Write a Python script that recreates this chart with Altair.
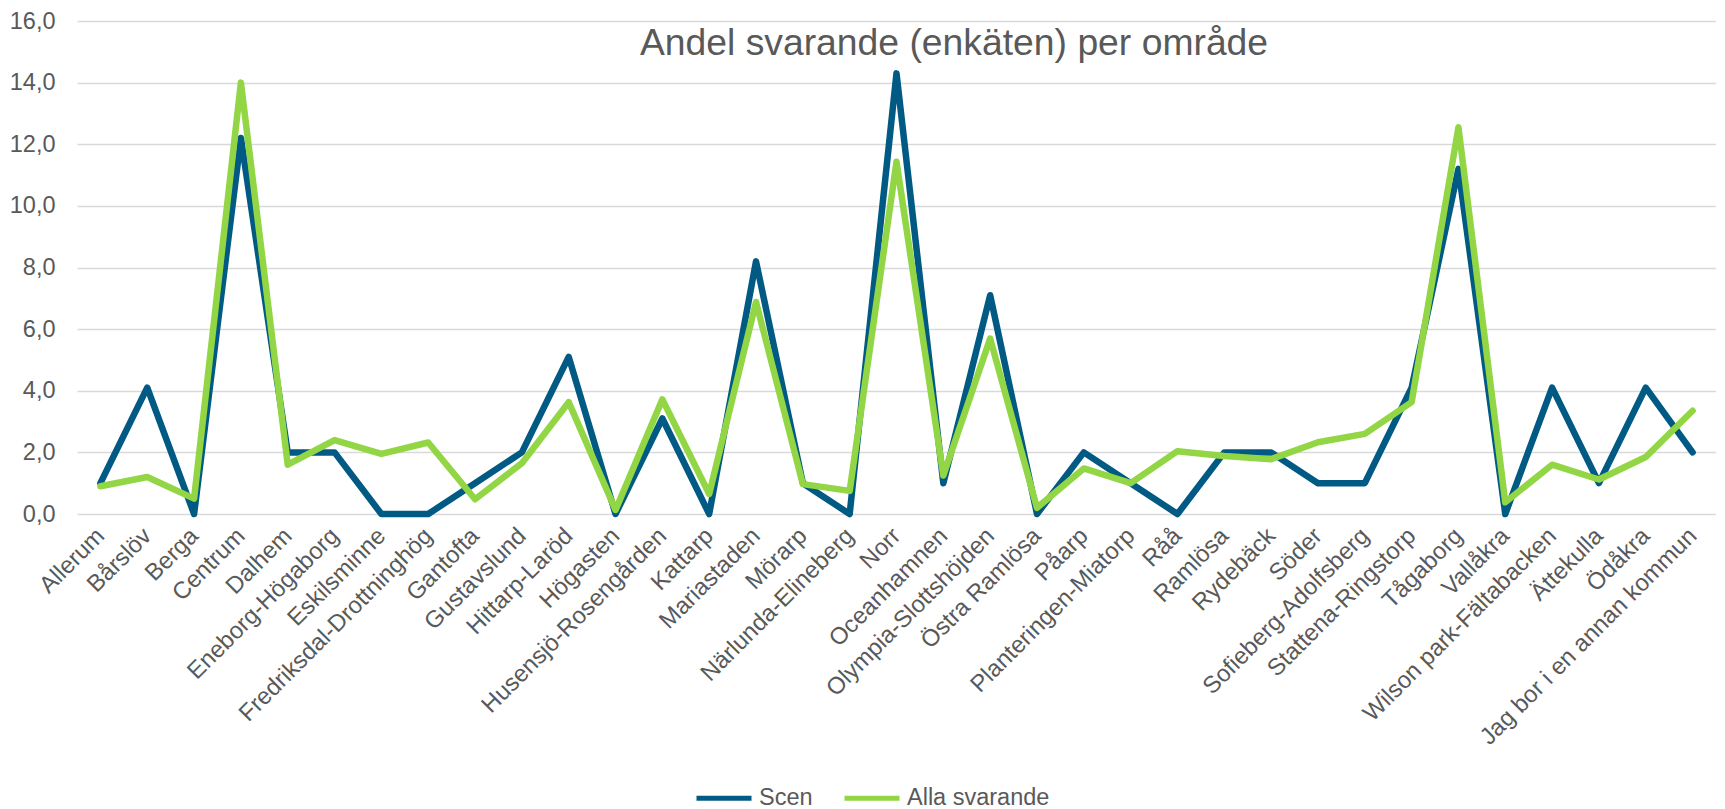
import altair as alt
import pandas as pd

areas = [
    "Allerum", "Bårslöv", "Berga", "Centrum", "Dalhem", "Eneborg-Högaborg",
    "Eskilsminne", "Fredriksdal-Drottninghög", "Gantofta", "Gustavslund",
    "Hittarp-Laröd", "Högasten", "Husensjö-Rosengården", "Kattarp",
    "Mariastaden", "Mörarp", "Närlunda-Elineberg", "Norr", "Oceanhamnen",
    "Olympia-Slottshöjden", "Östra Ramlösa", "Påarp", "Planteringen-Miatorp",
    "Råå", "Ramlösa", "Rydebäck", "Söder", "Sofieberg-Adolfsberg",
    "Stattena-Ringstorp", "Tågaborg", "Vallåkra", "Wilson park-Fältabacken",
    "Ättekulla", "Ödåkra", "Jag bor i en annan kommun",
]
scen = [
    1.0, 4.1, 0.0, 12.2, 2.0, 2.0,
    0.0, 0.0, 1.0, 2.0,
    5.1, 0.0, 3.1, 0.0,
    8.2, 1.0, 0.0, 14.3, 1.0,
    7.1, 0.0, 2.0, 1.0,
    0.0, 2.0, 2.0, 1.0, 1.0,
    4.1, 11.2, 0.0, 4.1,
    1.0, 4.1, 2.0,
]
alla = [
    0.9, 1.2, 0.5, 14.0, 1.6, 2.4,
    1.95, 2.32, 0.48, 1.65,
    3.63, 0.13, 3.72, 0.65,
    6.88, 0.97, 0.75, 11.43, 1.25,
    5.69, 0.2, 1.48, 1.0,
    2.04, 1.88, 1.78, 2.33, 2.6,
    3.63, 12.55, 0.38, 1.6,
    1.12, 1.85, 3.35,
]
series_names = ["Scen", "Alla svarande"]
series_colors = ["#005A84", "#92D645"]
y_ticks = [0, 2, 4, 6, 8, 10, 12, 14, 16]
title_text = ["Andel svarande (enkäten) per område"]

df = pd.DataFrame({"Område": areas, "Scen": scen, "Alla svarande": alla})

FONT = "Liberation Sans"
GRAY = "#595959"

x_axis = alt.Axis(
    title=None,
    labelAngle=-45,
    labelAlign="right",
    labelBaseline="middle",
    labelPadding=18,
    labelFontSize=23.8,
    labelColor=GRAY,
    labelFont=FONT,
    ticks=False,
    domain=False,
    grid=False,
    labelOverlap=False,
    labelLimit=0,
)
y_scale = alt.Scale(domain=[0, 16], nice=False)
y_axis = alt.Axis(
    title=None,
    values=y_ticks,
    labelExpr="replace(format(datum.value, '.1f'), '.', ',')",
    labelFontSize=23.5,
    labelColor=GRAY,
    labelFont=FONT,
    labelPadding=22,
    ticks=False,
    domain=False,
    grid=True,
    gridColor="#D9D9D9",
    gridWidth=1.5,
)
color_scale = alt.Scale(domain=series_names, range=series_colors)


def series_layer(name, show_legend):
    if show_legend:
        legend = alt.Legend(
            title=None,
            orient="none",
            direction="horizontal",
            legendX=617,
            legendY=747,
            symbolType="stroke",
            symbolSize=3025,
            symbolStrokeWidth=5,
            labelFontSize=23.5,
            labelFont=FONT,
            labelColor=GRAY,
            labelOffset=5,
            columnPadding=21,
            padding=0,
        )
    else:
        legend = None
    return (
        alt.Chart(df)
        .transform_calculate(series=f"'{name}'")
        .mark_line(strokeWidth=6.5, strokeJoin="round", strokeCap="round")
        .encode(
            x=alt.X("Område:N", sort=areas,
                    scale=alt.Scale(type="point", padding=0.5), axis=x_axis),
            y=alt.Y(f"{name}:Q", scale=y_scale, axis=y_axis, title=None),
            color=alt.Color("series:N", scale=color_scale, legend=legend),
        )
    )


blue = series_layer("Scen", True)
green = series_layer("Alla svarande", False)

title = (
    alt.Chart(pd.DataFrame({"t": title_text}))
    .mark_text(
        align="center",
        baseline="alphabetic",
        fontSize=37.3,
        font=FONT,
        color=GRAY,
    )
    .encode(x=alt.value(877), y=alt.value(33.5), text="t:N")
)

chart = (
    alt.layer(blue, green, title)
    .properties(
        width=1639,
        height=493,
        autosize=alt.AutoSizeParams(type="none"),
        padding={"left": 69, "top": 13, "right": 0, "bottom": 295},
    )
    .configure_view(stroke=None)
)

chart.save("out.html", embed_options={"renderer": "svg", "actions": False})
